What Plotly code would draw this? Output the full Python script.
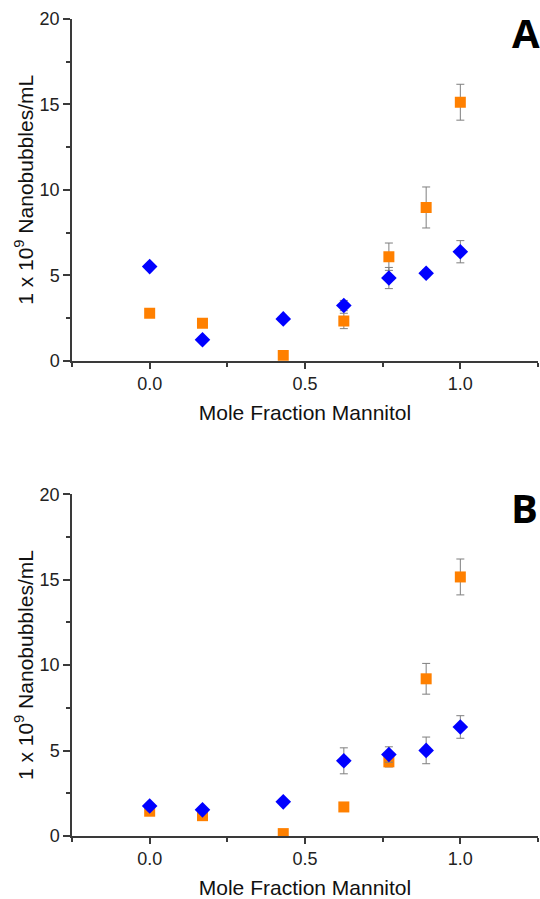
import plotly.graph_objects as go
from plotly.subplots import make_subplots

x_frac = [0.0, 0.17, 0.43, 0.625, 0.77, 0.89, 1.0]

# Panel A
a_blue = [5.51, 1.23, 2.45, 3.23, 4.84, 5.12, 6.38]
a_blue_err = [0.15, 0.15, 0.15, 0.3, 0.62, 0.2, 0.65]
a_orange = [2.78, 2.20, 0.31, 2.33, 6.09, 8.97, 15.13]
a_orange_err = [0.1, 0.1, 0.1, 0.45, 0.8, 1.2, 1.05]

# Panel B
b_blue = [1.76, 1.53, 2.00, 4.40, 4.77, 5.01, 6.38]
b_blue_err = [0.15, 0.15, 0.15, 0.76, 0.45, 0.78, 0.66]
b_orange = [1.45, 1.19, 0.14, 1.70, 4.34, 9.20, 15.16]
b_orange_err = [0.1, 0.1, 0.1, 0.2, 0.3, 0.9, 1.05]

panel_labels = ["A", "B"]
x_title = "Mole Fraction Mannitol"
y_title = "1 x 10<sup>9</sup> Nanobubbles/mL"

BLUE = "#0000FF"
ORANGE = "#FF8000"
ERR = "#7f7f7f"
AX = "#3a3a3a"

fig = make_subplots(rows=2, cols=1, vertical_spacing=0.1634)

def add_panel(row, orange, orange_err, blue, blue_err):
    fig.add_trace(go.Scatter(
        x=x_frac, y=orange, mode="markers",
        marker=dict(symbol="square", size=11, color=ORANGE,
                    line=dict(width=0)),
        error_y=dict(type="data", array=orange_err, visible=True,
                     color=ERR, thickness=1, width=4),
        showlegend=False), row=row, col=1)
    fig.add_trace(go.Scatter(
        x=x_frac, y=blue, mode="markers",
        marker=dict(symbol="diamond", size=12, color=BLUE,
                    line=dict(width=0)),
        error_y=dict(type="data", array=blue_err, visible=True,
                     color=ERR, thickness=1, width=4),
        showlegend=False), row=row, col=1)

add_panel(1, a_orange, a_orange_err, a_blue, a_blue_err)
add_panel(2, b_orange, b_orange_err, b_blue, b_blue_err)

font_family = "Liberation Sans, Arial, sans-serif"

for r in (1, 2):
    fig.update_xaxes(
        range=[-0.25, 1.25], tickvals=[0, 0.5, 1.0],
        ticktext=["0.0", "0.5", "1.0"], automargin=False,
        ticks="outside", ticklen=6, tickwidth=1.5, tickcolor=AX,
        showline=True, linecolor=AX, linewidth=1.5, mirror=False,
        showgrid=False, zeroline=False,
        minor=dict(tickvals=[-0.25, 0.25, 0.75, 1.25], ticks="outside",
                   ticklen=4, tickwidth=1.5, tickcolor=AX, showgrid=False),
        tickfont=dict(family=font_family, size=18, color="#222"),
        title=dict(text=x_title, standoff=12,
                   font=dict(family=font_family, size=21, color="#111")),
        row=r, col=1)
    fig.update_yaxes(
        range=[0, 20], tickvals=[0, 5, 10, 15, 20], automargin=False,
        ticks="outside", ticklen=7, tickwidth=1.5, tickcolor=AX,
        showline=True, linecolor=AX, linewidth=1.5, mirror=False,
        showgrid=False, zeroline=False,
        minor=dict(tickvals=[2.5, 7.5, 12.5, 17.5], ticks="outside",
                   ticklen=4, tickwidth=1.5, tickcolor=AX, showgrid=False),
        tickfont=dict(family=font_family, size=18, color="#222"),
        title=dict(text=y_title, standoff=0,
                   font=dict(family=font_family, size=21, color="#111")),
        row=r, col=1)

fig.add_annotation(text="<b>%s</b>" % panel_labels[0], xref="paper", yref="paper",
                   x=0.974, y=0.9835, xanchor="center", yanchor="middle",
                   showarrow=False, font=dict(family="Open Sans", size=40, color="black"))
fig.add_annotation(text="<b>%s</b>" % panel_labels[1], xref="paper", yref="paper",
                   x=0.972, y=0.4022, xanchor="center", yanchor="middle",
                   showarrow=False, font=dict(family="Open Sans", size=40, color="black"))

fig.update_layout(
    width=540, height=899,
    margin=dict(l=72, r=2, t=18.5, b=63.3, autoexpand=False),
    paper_bgcolor="white", plot_bgcolor="white",
)

fig.write_html("out.html",
               config={"displayModeBar": False},
               post_script="document.body.style.margin='0';document.body.style.overflow='hidden';")
